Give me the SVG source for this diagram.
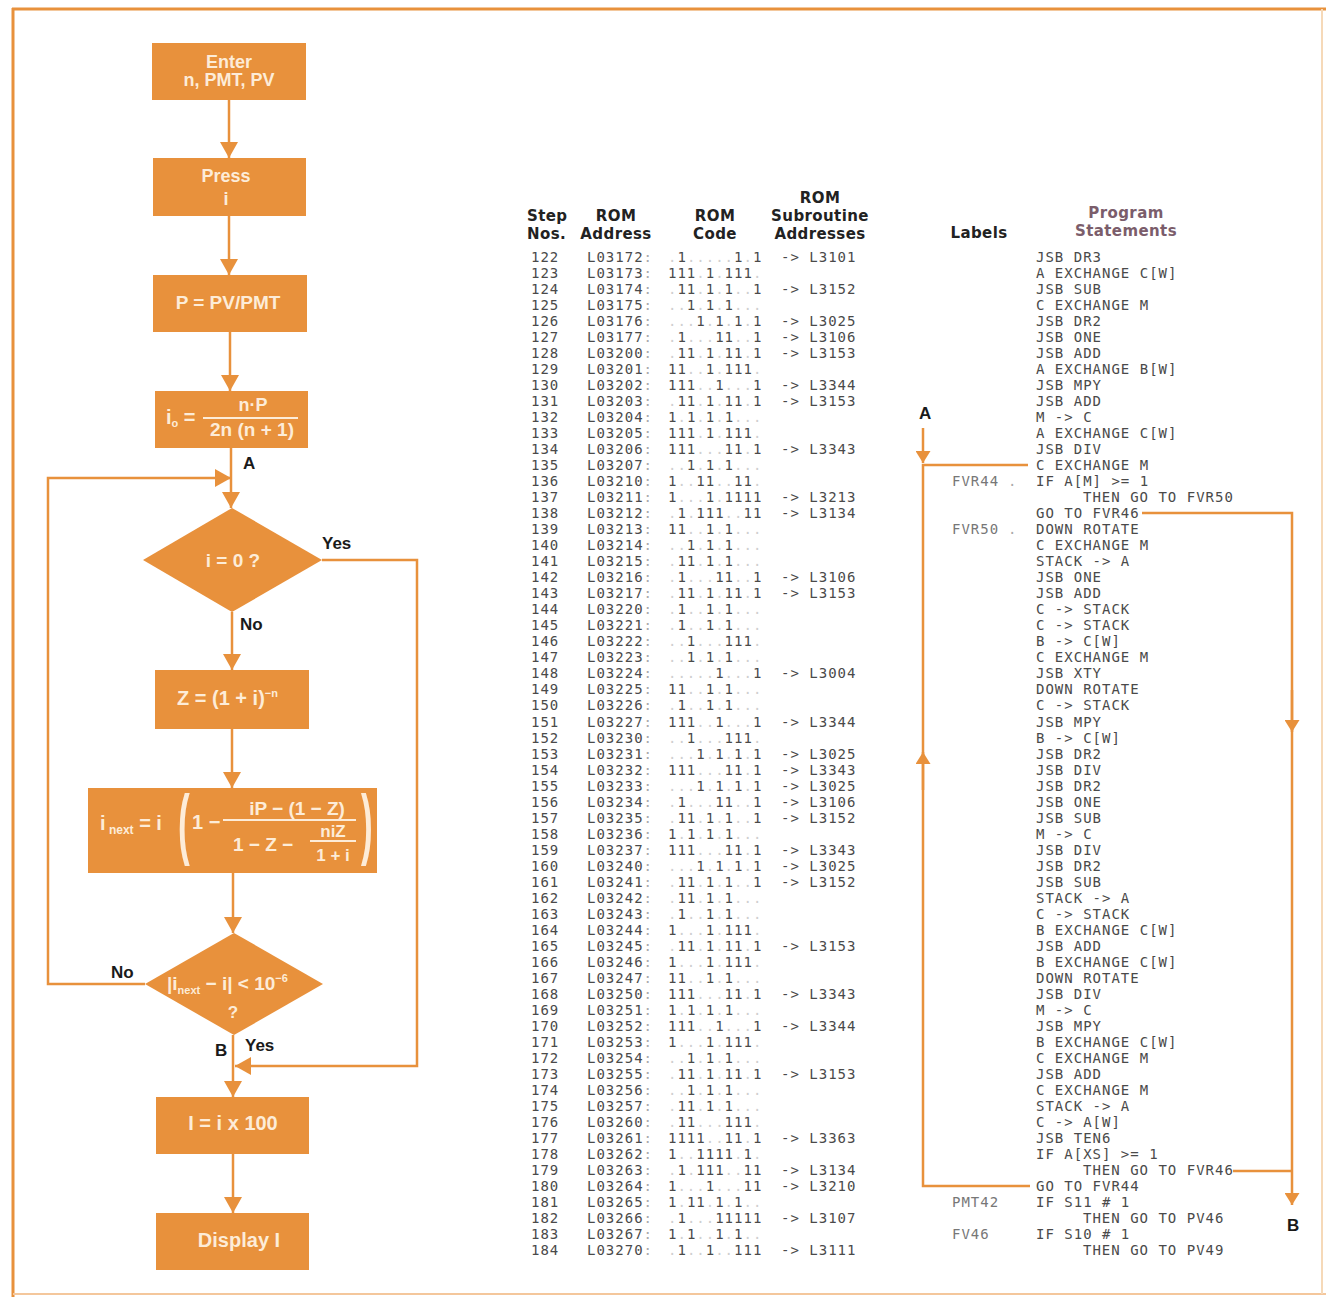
<svg xmlns="http://www.w3.org/2000/svg" width="1326" height="1297" viewBox="0 0 1326 1297">
<style>
.box{fill:#E8913C}
.bt{font-family:"Liberation Sans",Arial,sans-serif;font-weight:bold;fill:#FDECD8;text-anchor:middle}
.bts{font-family:"Liberation Sans",Arial,sans-serif;font-weight:bold;fill:#FDECD8}
.fl{stroke:#FDECD8;stroke-width:2}
.lbl{font-family:"Liberation Sans",Arial,sans-serif;font-weight:bold;font-size:17px;fill:#1a1a1a}
.hd{font-family:"DejaVu Sans",sans-serif;font-weight:bold;font-size:15px;letter-spacing:0.4px;fill:#222;text-anchor:middle}
.hdp{fill:#7B5D6B}
.mono{font-family:"DejaVu Sans Mono","Liberation Mono",monospace;font-size:14px;letter-spacing:1px;fill:#4a4a4a}
.d{fill:#cfcfcf}
.cl{fill:#aaaaaa}
.lab{fill:#777}
.conn{fill:none;stroke:#E8913C;stroke-width:2.5}
.frame{stroke:#E8913C;stroke-width:3}
</style>
<defs>
<marker id="ah" viewBox="0 0 16 18" refX="16" refY="9" markerWidth="16" markerHeight="18" markerUnits="userSpaceOnUse" orient="auto"><path d="M0,0 L16,9 L0,18 z" fill="#E8913C"/></marker>
<marker id="ahs" viewBox="0 0 12 15" refX="12" refY="7.5" markerWidth="12" markerHeight="15" markerUnits="userSpaceOnUse" orient="auto"><path d="M0,0 L12,7.5 L0,15 z" fill="#E8913C"/></marker>
</defs>
<rect width="1326" height="1297" fill="#ffffff"/>
<g id="frame">
<line class="frame" x1="12" y1="9" x2="1326" y2="9"/>
<line class="frame" x1="13" y1="8" x2="13" y2="1297"/>
<line x1="13" y1="1294" x2="1326" y2="1294" stroke="#F4C79C" stroke-width="2"/>
<line x1="1322" y1="9" x2="1322" y2="1294" stroke="#F6D9B8" stroke-width="2"/>
</g>

<g id="connectors">
<path class="conn" d="M229,100 V158" marker-end="url(#ah)"/>
<path class="conn" d="M229,216 V275" marker-end="url(#ah)"/>
<path class="conn" d="M230,332 V391" marker-end="url(#ah)"/>
<path class="conn" d="M231,448 V508" marker-end="url(#ah)"/>
<path class="conn" d="M145,984 H48 V478 H231" marker-end="url(#ah)"/>
<path class="conn" d="M232,612 V670" marker-end="url(#ah)"/>
<path class="conn" d="M322,560 H417 V1066 H235" marker-end="url(#ah)"/>
<path class="conn" d="M232,729 V788" marker-end="url(#ah)"/>
<path class="conn" d="M233,873 V933" marker-end="url(#ah)"/>
<path class="conn" d="M233,1035 V1097" marker-end="url(#ah)"/>
<path class="conn" d="M233,1154 V1213" marker-end="url(#ah)"/>
<path class="conn" d="M923,428 V463" marker-end="url(#ahs)"/>
<path class="conn" d="M1028,465 H923 V1186 H1030"/>
<path class="conn" d="M923,790 V752" marker-end="url(#ahs)"/>
<path class="conn" d="M1142,513 H1292 V1205" marker-end="url(#ahs)"/>
<path class="conn" d="M1292,690 V732" marker-end="url(#ahs)"/>
<path class="conn" d="M1233,1171 H1292"/>
</g>

<g id="n-enter">
<rect class="box" x="152" y="43" width="154" height="57"/>
<text class="bt" font-size="18"><tspan x="229" y="68">Enter</tspan><tspan x="229" y="86">n, PMT, PV</tspan></text>
</g>
<g id="n-press">
<rect class="box" x="153" y="158" width="153" height="58"/>
<text class="bt" font-size="18"><tspan x="226" y="182">Press</tspan><tspan x="226" y="205">i</tspan></text>
</g>
<g id="n-p">
<rect class="box" x="153" y="275" width="154" height="57"/>
<text class="bt" x="228" y="309" font-size="19">P = PV/PMT</text>
</g>
<g id="n-i0">
<rect class="box" x="155" y="391" width="153" height="57"/>
<text class="bts" x="166" y="424" font-size="20">i<tspan font-size="11" dy="3">o</tspan><tspan dy="-3"> =</tspan></text>
<text class="bt" x="253" y="411" font-size="18">n·P</text>
<line class="fl" x1="203" y1="418" x2="298" y2="418"/>
<text class="bt" x="252" y="436" font-size="19">2n (n + 1)</text>
</g>
<g id="n-d1">
<polygon class="box" points="143,560 232,508 322,560 232,612"/>
<text class="bt" x="233" y="567" font-size="19">i = 0 ?</text>
</g>
<g id="n-z">
<rect class="box" x="155" y="670" width="154" height="59"/>
<text class="bts" x="177" y="705" font-size="20">Z = (1 + i)<tspan font-size="11" dy="-8">−n</tspan></text>
</g>
<g id="n-inext">
<rect class="box" x="88" y="788" width="289" height="85"/>
<text class="bts" x="100" y="830" font-size="20">i<tspan font-size="12" dy="4"> next</tspan><tspan dy="-4"> = i</tspan></text>
<text class="bts" transform="translate(178,850) scale(0.45,1)" font-size="78">(</text>
<text class="bts" x="192" y="829" font-size="20">1 −</text>
<text class="bt" x="297" y="815" font-size="19">iP − (1 − Z)</text>
<line class="fl" x1="223" y1="820" x2="356" y2="820"/>
<text class="bts" x="233" y="851" font-size="19">1 − Z −</text>
<text class="bt" x="333" y="837" font-size="17">niZ</text>
<line class="fl" x1="310" y1="841" x2="356" y2="841"/>
<text class="bt" x="333" y="861" font-size="17">1 + i</text>
<text class="bts" transform="translate(361,850) scale(0.45,1)" font-size="78">)</text>
</g>
<g id="n-d2">
<polygon class="box" points="145,984 234,933 323,984 234,1035"/>
<text class="bts" x="167" y="990" font-size="19">|i<tspan font-size="11" dy="4">next</tspan><tspan dy="-4"> − i| &lt; 10</tspan><tspan font-size="11" dy="-8">−6</tspan></text>
<text class="bt" x="233" y="1018" font-size="17">?</text>
</g>
<g id="n-i100">
<rect class="box" x="156" y="1097" width="153" height="57"/>
<text class="bt" x="233" y="1130" font-size="20">I = i x 100</text>
</g>
<g id="n-display">
<rect class="box" x="156" y="1213" width="153" height="57"/>
<text class="bt" x="239" y="1247" font-size="20">Display I</text>
</g>

<g id="flow-labels">
<text class="lbl" x="243" y="469">A</text>
<text class="lbl" x="322" y="549">Yes</text>
<text class="lbl" x="240" y="630">No</text>
<text class="lbl" x="111" y="978">No</text>
<text class="lbl" x="215" y="1056">B</text>
<text class="lbl" x="245" y="1051">Yes</text>
<text class="lbl" x="919" y="419">A</text>
<text class="lbl" x="1287" y="1231">B</text>
</g>

<g id="table-header">
<text class="hd" style="text-anchor:start"><tspan x="527" y="221">Step</tspan><tspan x="527" y="239">Nos.</tspan></text>
<text class="hd"><tspan x="616" y="221">ROM</tspan><tspan x="616" y="239">Address</tspan></text>
<text class="hd"><tspan x="715" y="221">ROM</tspan><tspan x="715" y="239">Code</tspan></text>
<text class="hd"><tspan x="820" y="203">ROM</tspan><tspan x="820" y="221">Subroutine</tspan><tspan x="820" y="239">Addresses</tspan></text>
<text class="hd" x="979" y="238">Labels</text>
<text class="hd hdp"><tspan x="1126" y="218">Program</tspan><tspan x="1126" y="236">Statements</tspan></text>
</g>

<g id="table">
<text class="mono" fill="#3a3a3a"><tspan x="531" y="262">122</tspan><tspan x="531" y="278">123</tspan><tspan x="531" y="294">124</tspan><tspan x="531" y="310">125</tspan><tspan x="531" y="326.1">126</tspan><tspan x="531" y="342.1">127</tspan><tspan x="531" y="358.1">128</tspan><tspan x="531" y="374.1">129</tspan><tspan x="531" y="390.1">130</tspan><tspan x="531" y="406.1">131</tspan><tspan x="531" y="422.2">132</tspan><tspan x="531" y="438.2">133</tspan><tspan x="531" y="454.2">134</tspan><tspan x="531" y="470.2">135</tspan><tspan x="531" y="486.2">136</tspan><tspan x="531" y="502.2">137</tspan><tspan x="531" y="518.3">138</tspan><tspan x="531" y="534.3">139</tspan><tspan x="531" y="550.3">140</tspan><tspan x="531" y="566.3">141</tspan><tspan x="531" y="582.3">142</tspan><tspan x="531" y="598.3">143</tspan><tspan x="531" y="614.4">144</tspan><tspan x="531" y="630.4">145</tspan><tspan x="531" y="646.4">146</tspan><tspan x="531" y="662.4">147</tspan><tspan x="531" y="678.4">148</tspan><tspan x="531" y="694.4">149</tspan><tspan x="531" y="710.4">150</tspan><tspan x="531" y="726.5">151</tspan><tspan x="531" y="742.5">152</tspan><tspan x="531" y="758.5">153</tspan><tspan x="531" y="774.5">154</tspan><tspan x="531" y="790.5">155</tspan><tspan x="531" y="806.5">156</tspan><tspan x="531" y="822.6">157</tspan><tspan x="531" y="838.6">158</tspan><tspan x="531" y="854.6">159</tspan><tspan x="531" y="870.6">160</tspan><tspan x="531" y="886.6">161</tspan><tspan x="531" y="902.6">162</tspan><tspan x="531" y="918.7">163</tspan><tspan x="531" y="934.7">164</tspan><tspan x="531" y="950.7">165</tspan><tspan x="531" y="966.7">166</tspan><tspan x="531" y="982.7">167</tspan><tspan x="531" y="998.7">168</tspan><tspan x="531" y="1014.8">169</tspan><tspan x="531" y="1030.8">170</tspan><tspan x="531" y="1046.8">171</tspan><tspan x="531" y="1062.8">172</tspan><tspan x="531" y="1078.8">173</tspan><tspan x="531" y="1094.8">174</tspan><tspan x="531" y="1110.8">175</tspan><tspan x="531" y="1126.9">176</tspan><tspan x="531" y="1142.9">177</tspan><tspan x="531" y="1158.9">178</tspan><tspan x="531" y="1174.9">179</tspan><tspan x="531" y="1190.9">180</tspan><tspan x="531" y="1206.9">181</tspan><tspan x="531" y="1223">182</tspan><tspan x="531" y="1239">183</tspan><tspan x="531" y="1255">184</tspan></text>

<text class="mono"><tspan x="587" y="262">L03172<tspan class="cl">:</tspan></tspan><tspan x="587" y="278">L03173<tspan class="cl">:</tspan></tspan><tspan x="587" y="294">L03174<tspan class="cl">:</tspan></tspan><tspan x="587" y="310">L03175<tspan class="cl">:</tspan></tspan><tspan x="587" y="326.1">L03176<tspan class="cl">:</tspan></tspan><tspan x="587" y="342.1">L03177<tspan class="cl">:</tspan></tspan><tspan x="587" y="358.1">L03200<tspan class="cl">:</tspan></tspan><tspan x="587" y="374.1">L03201<tspan class="cl">:</tspan></tspan><tspan x="587" y="390.1">L03202<tspan class="cl">:</tspan></tspan><tspan x="587" y="406.1">L03203<tspan class="cl">:</tspan></tspan><tspan x="587" y="422.2">L03204<tspan class="cl">:</tspan></tspan><tspan x="587" y="438.2">L03205<tspan class="cl">:</tspan></tspan><tspan x="587" y="454.2">L03206<tspan class="cl">:</tspan></tspan><tspan x="587" y="470.2">L03207<tspan class="cl">:</tspan></tspan><tspan x="587" y="486.2">L03210<tspan class="cl">:</tspan></tspan><tspan x="587" y="502.2">L03211<tspan class="cl">:</tspan></tspan><tspan x="587" y="518.3">L03212<tspan class="cl">:</tspan></tspan><tspan x="587" y="534.3">L03213<tspan class="cl">:</tspan></tspan><tspan x="587" y="550.3">L03214<tspan class="cl">:</tspan></tspan><tspan x="587" y="566.3">L03215<tspan class="cl">:</tspan></tspan><tspan x="587" y="582.3">L03216<tspan class="cl">:</tspan></tspan><tspan x="587" y="598.3">L03217<tspan class="cl">:</tspan></tspan><tspan x="587" y="614.4">L03220<tspan class="cl">:</tspan></tspan><tspan x="587" y="630.4">L03221<tspan class="cl">:</tspan></tspan><tspan x="587" y="646.4">L03222<tspan class="cl">:</tspan></tspan><tspan x="587" y="662.4">L03223<tspan class="cl">:</tspan></tspan><tspan x="587" y="678.4">L03224<tspan class="cl">:</tspan></tspan><tspan x="587" y="694.4">L03225<tspan class="cl">:</tspan></tspan><tspan x="587" y="710.4">L03226<tspan class="cl">:</tspan></tspan><tspan x="587" y="726.5">L03227<tspan class="cl">:</tspan></tspan><tspan x="587" y="742.5">L03230<tspan class="cl">:</tspan></tspan><tspan x="587" y="758.5">L03231<tspan class="cl">:</tspan></tspan><tspan x="587" y="774.5">L03232<tspan class="cl">:</tspan></tspan><tspan x="587" y="790.5">L03233<tspan class="cl">:</tspan></tspan><tspan x="587" y="806.5">L03234<tspan class="cl">:</tspan></tspan><tspan x="587" y="822.6">L03235<tspan class="cl">:</tspan></tspan><tspan x="587" y="838.6">L03236<tspan class="cl">:</tspan></tspan><tspan x="587" y="854.6">L03237<tspan class="cl">:</tspan></tspan><tspan x="587" y="870.6">L03240<tspan class="cl">:</tspan></tspan><tspan x="587" y="886.6">L03241<tspan class="cl">:</tspan></tspan><tspan x="587" y="902.6">L03242<tspan class="cl">:</tspan></tspan><tspan x="587" y="918.7">L03243<tspan class="cl">:</tspan></tspan><tspan x="587" y="934.7">L03244<tspan class="cl">:</tspan></tspan><tspan x="587" y="950.7">L03245<tspan class="cl">:</tspan></tspan><tspan x="587" y="966.7">L03246<tspan class="cl">:</tspan></tspan><tspan x="587" y="982.7">L03247<tspan class="cl">:</tspan></tspan><tspan x="587" y="998.7">L03250<tspan class="cl">:</tspan></tspan><tspan x="587" y="1014.8">L03251<tspan class="cl">:</tspan></tspan><tspan x="587" y="1030.8">L03252<tspan class="cl">:</tspan></tspan><tspan x="587" y="1046.8">L03253<tspan class="cl">:</tspan></tspan><tspan x="587" y="1062.8">L03254<tspan class="cl">:</tspan></tspan><tspan x="587" y="1078.8">L03255<tspan class="cl">:</tspan></tspan><tspan x="587" y="1094.8">L03256<tspan class="cl">:</tspan></tspan><tspan x="587" y="1110.8">L03257<tspan class="cl">:</tspan></tspan><tspan x="587" y="1126.9">L03260<tspan class="cl">:</tspan></tspan><tspan x="587" y="1142.9">L03261<tspan class="cl">:</tspan></tspan><tspan x="587" y="1158.9">L03262<tspan class="cl">:</tspan></tspan><tspan x="587" y="1174.9">L03263<tspan class="cl">:</tspan></tspan><tspan x="587" y="1190.9">L03264<tspan class="cl">:</tspan></tspan><tspan x="587" y="1206.9">L03265<tspan class="cl">:</tspan></tspan><tspan x="587" y="1223">L03266<tspan class="cl">:</tspan></tspan><tspan x="587" y="1239">L03267<tspan class="cl">:</tspan></tspan><tspan x="587" y="1255">L03270<tspan class="cl">:</tspan></tspan></text>

<text class="mono" fill="#444"><tspan x="668" y="262"><tspan class="d">.</tspan>1<tspan class="d">.....</tspan>1<tspan class="d">.</tspan>1</tspan><tspan x="668" y="278">111<tspan class="d">.</tspan>1<tspan class="d">.</tspan>111<tspan class="d">.</tspan></tspan><tspan x="668" y="294"><tspan class="d">.</tspan>11<tspan class="d">.</tspan>1<tspan class="d">.</tspan>1<tspan class="d">..</tspan>1</tspan><tspan x="668" y="310"><tspan class="d">..</tspan>1<tspan class="d">.</tspan>1<tspan class="d">.</tspan>1<tspan class="d">...</tspan></tspan><tspan x="668" y="326.1"><tspan class="d">...</tspan>1<tspan class="d">.</tspan>1<tspan class="d">.</tspan>1<tspan class="d">.</tspan>1</tspan><tspan x="668" y="342.1"><tspan class="d">.</tspan>1<tspan class="d">...</tspan>11<tspan class="d">..</tspan>1</tspan><tspan x="668" y="358.1"><tspan class="d">.</tspan>11<tspan class="d">.</tspan>1<tspan class="d">.</tspan>11<tspan class="d">.</tspan>1</tspan><tspan x="668" y="374.1">11<tspan class="d">..</tspan>1<tspan class="d">.</tspan>111<tspan class="d">.</tspan></tspan><tspan x="668" y="390.1">111<tspan class="d">..</tspan>1<tspan class="d">...</tspan>1</tspan><tspan x="668" y="406.1"><tspan class="d">.</tspan>11<tspan class="d">.</tspan>1<tspan class="d">.</tspan>11<tspan class="d">.</tspan>1</tspan><tspan x="668" y="422.2">1<tspan class="d">.</tspan>1<tspan class="d">.</tspan>1<tspan class="d">.</tspan>1<tspan class="d">...</tspan></tspan><tspan x="668" y="438.2">111<tspan class="d">.</tspan>1<tspan class="d">.</tspan>111<tspan class="d">.</tspan></tspan><tspan x="668" y="454.2">111<tspan class="d">...</tspan>11<tspan class="d">.</tspan>1</tspan><tspan x="668" y="470.2"><tspan class="d">..</tspan>1<tspan class="d">.</tspan>1<tspan class="d">.</tspan>1<tspan class="d">...</tspan></tspan><tspan x="668" y="486.2">1<tspan class="d">..</tspan>11<tspan class="d">..</tspan>11<tspan class="d">.</tspan></tspan><tspan x="668" y="502.2">1<tspan class="d">...</tspan>1<tspan class="d">.</tspan>1111</tspan><tspan x="668" y="518.3"><tspan class="d">.</tspan>1<tspan class="d">.</tspan>111<tspan class="d">..</tspan>11</tspan><tspan x="668" y="534.3">11<tspan class="d">..</tspan>1<tspan class="d">.</tspan>1<tspan class="d">...</tspan></tspan><tspan x="668" y="550.3"><tspan class="d">..</tspan>1<tspan class="d">.</tspan>1<tspan class="d">.</tspan>1<tspan class="d">...</tspan></tspan><tspan x="668" y="566.3"><tspan class="d">.</tspan>11<tspan class="d">.</tspan>1<tspan class="d">.</tspan>1<tspan class="d">...</tspan></tspan><tspan x="668" y="582.3"><tspan class="d">.</tspan>1<tspan class="d">...</tspan>11<tspan class="d">..</tspan>1</tspan><tspan x="668" y="598.3"><tspan class="d">.</tspan>11<tspan class="d">.</tspan>1<tspan class="d">.</tspan>11<tspan class="d">.</tspan>1</tspan><tspan x="668" y="614.4"><tspan class="d">.</tspan>1<tspan class="d">..</tspan>1<tspan class="d">.</tspan>1<tspan class="d">...</tspan></tspan><tspan x="668" y="630.4"><tspan class="d">.</tspan>1<tspan class="d">..</tspan>1<tspan class="d">.</tspan>1<tspan class="d">...</tspan></tspan><tspan x="668" y="646.4"><tspan class="d">..</tspan>1<tspan class="d">...</tspan>111<tspan class="d">.</tspan></tspan><tspan x="668" y="662.4"><tspan class="d">..</tspan>1<tspan class="d">.</tspan>1<tspan class="d">.</tspan>1<tspan class="d">...</tspan></tspan><tspan x="668" y="678.4"><tspan class="d">.....</tspan>1<tspan class="d">...</tspan>1</tspan><tspan x="668" y="694.4">11<tspan class="d">..</tspan>1<tspan class="d">.</tspan>1<tspan class="d">...</tspan></tspan><tspan x="668" y="710.4"><tspan class="d">.</tspan>1<tspan class="d">..</tspan>1<tspan class="d">.</tspan>1<tspan class="d">...</tspan></tspan><tspan x="668" y="726.5">111<tspan class="d">..</tspan>1<tspan class="d">...</tspan>1</tspan><tspan x="668" y="742.5"><tspan class="d">..</tspan>1<tspan class="d">...</tspan>111<tspan class="d">.</tspan></tspan><tspan x="668" y="758.5"><tspan class="d">...</tspan>1<tspan class="d">.</tspan>1<tspan class="d">.</tspan>1<tspan class="d">.</tspan>1</tspan><tspan x="668" y="774.5">111<tspan class="d">...</tspan>11<tspan class="d">.</tspan>1</tspan><tspan x="668" y="790.5"><tspan class="d">...</tspan>1<tspan class="d">.</tspan>1<tspan class="d">.</tspan>1<tspan class="d">.</tspan>1</tspan><tspan x="668" y="806.5"><tspan class="d">.</tspan>1<tspan class="d">...</tspan>11<tspan class="d">..</tspan>1</tspan><tspan x="668" y="822.6"><tspan class="d">.</tspan>11<tspan class="d">.</tspan>1<tspan class="d">.</tspan>1<tspan class="d">..</tspan>1</tspan><tspan x="668" y="838.6">1<tspan class="d">.</tspan>1<tspan class="d">.</tspan>1<tspan class="d">.</tspan>1<tspan class="d">...</tspan></tspan><tspan x="668" y="854.6">111<tspan class="d">...</tspan>11<tspan class="d">.</tspan>1</tspan><tspan x="668" y="870.6"><tspan class="d">...</tspan>1<tspan class="d">.</tspan>1<tspan class="d">.</tspan>1<tspan class="d">.</tspan>1</tspan><tspan x="668" y="886.6"><tspan class="d">.</tspan>11<tspan class="d">.</tspan>1<tspan class="d">.</tspan>1<tspan class="d">..</tspan>1</tspan><tspan x="668" y="902.6"><tspan class="d">.</tspan>11<tspan class="d">.</tspan>1<tspan class="d">.</tspan>1<tspan class="d">...</tspan></tspan><tspan x="668" y="918.7"><tspan class="d">.</tspan>1<tspan class="d">..</tspan>1<tspan class="d">.</tspan>1<tspan class="d">...</tspan></tspan><tspan x="668" y="934.7">1<tspan class="d">...</tspan>1<tspan class="d">.</tspan>111<tspan class="d">.</tspan></tspan><tspan x="668" y="950.7"><tspan class="d">.</tspan>11<tspan class="d">.</tspan>1<tspan class="d">.</tspan>11<tspan class="d">.</tspan>1</tspan><tspan x="668" y="966.7">1<tspan class="d">...</tspan>1<tspan class="d">.</tspan>111<tspan class="d">.</tspan></tspan><tspan x="668" y="982.7">11<tspan class="d">..</tspan>1<tspan class="d">.</tspan>1<tspan class="d">...</tspan></tspan><tspan x="668" y="998.7">111<tspan class="d">...</tspan>11<tspan class="d">.</tspan>1</tspan><tspan x="668" y="1014.8">1<tspan class="d">.</tspan>1<tspan class="d">.</tspan>1<tspan class="d">.</tspan>1<tspan class="d">...</tspan></tspan><tspan x="668" y="1030.8">111<tspan class="d">..</tspan>1<tspan class="d">...</tspan>1</tspan><tspan x="668" y="1046.8">1<tspan class="d">...</tspan>1<tspan class="d">.</tspan>111<tspan class="d">.</tspan></tspan><tspan x="668" y="1062.8"><tspan class="d">..</tspan>1<tspan class="d">.</tspan>1<tspan class="d">.</tspan>1<tspan class="d">...</tspan></tspan><tspan x="668" y="1078.8"><tspan class="d">.</tspan>11<tspan class="d">.</tspan>1<tspan class="d">.</tspan>11<tspan class="d">.</tspan>1</tspan><tspan x="668" y="1094.8"><tspan class="d">..</tspan>1<tspan class="d">.</tspan>1<tspan class="d">.</tspan>1<tspan class="d">...</tspan></tspan><tspan x="668" y="1110.8"><tspan class="d">.</tspan>11<tspan class="d">.</tspan>1<tspan class="d">.</tspan>1<tspan class="d">...</tspan></tspan><tspan x="668" y="1126.9"><tspan class="d">.</tspan>11<tspan class="d">...</tspan>111<tspan class="d">.</tspan></tspan><tspan x="668" y="1142.9">1111<tspan class="d">..</tspan>11<tspan class="d">.</tspan>1</tspan><tspan x="668" y="1158.9">1<tspan class="d">..</tspan>1111<tspan class="d">.</tspan>1<tspan class="d">.</tspan></tspan><tspan x="668" y="1174.9"><tspan class="d">.</tspan>1<tspan class="d">.</tspan>111<tspan class="d">..</tspan>11</tspan><tspan x="668" y="1190.9">1<tspan class="d">...</tspan>1<tspan class="d">...</tspan>11</tspan><tspan x="668" y="1206.9">1<tspan class="d">.</tspan>11<tspan class="d">.</tspan>1<tspan class="d">.</tspan>1<tspan class="d">..</tspan></tspan><tspan x="668" y="1223"><tspan class="d">.</tspan>1<tspan class="d">...</tspan>11111</tspan><tspan x="668" y="1239">1<tspan class="d">.</tspan>1<tspan class="d">..</tspan>1<tspan class="d">.</tspan>1<tspan class="d">..</tspan></tspan><tspan x="668" y="1255"><tspan class="d">.</tspan>1<tspan class="d">..</tspan>1<tspan class="d">..</tspan>111</tspan></text>

<text class="mono"><tspan x="781" y="262">-&gt; L3101</tspan><tspan x="781" y="294">-&gt; L3152</tspan><tspan x="781" y="326.1">-&gt; L3025</tspan><tspan x="781" y="342.1">-&gt; L3106</tspan><tspan x="781" y="358.1">-&gt; L3153</tspan><tspan x="781" y="390.1">-&gt; L3344</tspan><tspan x="781" y="406.1">-&gt; L3153</tspan><tspan x="781" y="454.2">-&gt; L3343</tspan><tspan x="781" y="502.2">-&gt; L3213</tspan><tspan x="781" y="518.3">-&gt; L3134</tspan><tspan x="781" y="582.3">-&gt; L3106</tspan><tspan x="781" y="598.3">-&gt; L3153</tspan><tspan x="781" y="678.4">-&gt; L3004</tspan><tspan x="781" y="726.5">-&gt; L3344</tspan><tspan x="781" y="758.5">-&gt; L3025</tspan><tspan x="781" y="774.5">-&gt; L3343</tspan><tspan x="781" y="790.5">-&gt; L3025</tspan><tspan x="781" y="806.5">-&gt; L3106</tspan><tspan x="781" y="822.6">-&gt; L3152</tspan><tspan x="781" y="854.6">-&gt; L3343</tspan><tspan x="781" y="870.6">-&gt; L3025</tspan><tspan x="781" y="886.6">-&gt; L3152</tspan><tspan x="781" y="950.7">-&gt; L3153</tspan><tspan x="781" y="998.7">-&gt; L3343</tspan><tspan x="781" y="1030.8">-&gt; L3344</tspan><tspan x="781" y="1078.8">-&gt; L3153</tspan><tspan x="781" y="1142.9">-&gt; L3363</tspan><tspan x="781" y="1174.9">-&gt; L3134</tspan><tspan x="781" y="1190.9">-&gt; L3210</tspan><tspan x="781" y="1223">-&gt; L3107</tspan><tspan x="781" y="1255">-&gt; L3111</tspan></text>

<text class="mono lab"><tspan x="952" y="486.2">FVR44</tspan><tspan class="cl" x="1008" y="486.2">.</tspan><tspan x="952" y="534.3">FVR50</tspan><tspan class="cl" x="1008" y="534.3">.</tspan><tspan x="952" y="1206.9">PMT42</tspan><tspan x="952" y="1239">FV46</tspan></text>

<text class="mono" fill="#555"><tspan x="1036" y="262">JSB DR3</tspan><tspan x="1036" y="278">A EXCHANGE C[W]</tspan><tspan x="1036" y="294">JSB SUB</tspan><tspan x="1036" y="310">C EXCHANGE M</tspan><tspan x="1036" y="326.1">JSB DR2</tspan><tspan x="1036" y="342.1">JSB ONE</tspan><tspan x="1036" y="358.1">JSB ADD</tspan><tspan x="1036" y="374.1">A EXCHANGE B[W]</tspan><tspan x="1036" y="390.1">JSB MPY</tspan><tspan x="1036" y="406.1">JSB ADD</tspan><tspan x="1036" y="422.2">M -&gt; C</tspan><tspan x="1036" y="438.2">A EXCHANGE C[W]</tspan><tspan x="1036" y="454.2">JSB DIV</tspan><tspan x="1036" y="470.2">C EXCHANGE M</tspan><tspan x="1036" y="486.2">IF A[M] &gt;= 1</tspan><tspan x="1083" y="502.2">THEN GO TO FVR50</tspan><tspan x="1036" y="518.3">GO TO FVR46</tspan><tspan x="1036" y="534.3">DOWN ROTATE</tspan><tspan x="1036" y="550.3">C EXCHANGE M</tspan><tspan x="1036" y="566.3">STACK -&gt; A</tspan><tspan x="1036" y="582.3">JSB ONE</tspan><tspan x="1036" y="598.3">JSB ADD</tspan><tspan x="1036" y="614.4">C -&gt; STACK</tspan><tspan x="1036" y="630.4">C -&gt; STACK</tspan><tspan x="1036" y="646.4">B -&gt; C[W]</tspan><tspan x="1036" y="662.4">C EXCHANGE M</tspan><tspan x="1036" y="678.4">JSB XTY</tspan><tspan x="1036" y="694.4">DOWN ROTATE</tspan><tspan x="1036" y="710.4">C -&gt; STACK</tspan><tspan x="1036" y="726.5">JSB MPY</tspan><tspan x="1036" y="742.5">B -&gt; C[W]</tspan><tspan x="1036" y="758.5">JSB DR2</tspan><tspan x="1036" y="774.5">JSB DIV</tspan><tspan x="1036" y="790.5">JSB DR2</tspan><tspan x="1036" y="806.5">JSB ONE</tspan><tspan x="1036" y="822.6">JSB SUB</tspan><tspan x="1036" y="838.6">M -&gt; C</tspan><tspan x="1036" y="854.6">JSB DIV</tspan><tspan x="1036" y="870.6">JSB DR2</tspan><tspan x="1036" y="886.6">JSB SUB</tspan><tspan x="1036" y="902.6">STACK -&gt; A</tspan><tspan x="1036" y="918.7">C -&gt; STACK</tspan><tspan x="1036" y="934.7">B EXCHANGE C[W]</tspan><tspan x="1036" y="950.7">JSB ADD</tspan><tspan x="1036" y="966.7">B EXCHANGE C[W]</tspan><tspan x="1036" y="982.7">DOWN ROTATE</tspan><tspan x="1036" y="998.7">JSB DIV</tspan><tspan x="1036" y="1014.8">M -&gt; C</tspan><tspan x="1036" y="1030.8">JSB MPY</tspan><tspan x="1036" y="1046.8">B EXCHANGE C[W]</tspan><tspan x="1036" y="1062.8">C EXCHANGE M</tspan><tspan x="1036" y="1078.8">JSB ADD</tspan><tspan x="1036" y="1094.8">C EXCHANGE M</tspan><tspan x="1036" y="1110.8">STACK -&gt; A</tspan><tspan x="1036" y="1126.9">C -&gt; A[W]</tspan><tspan x="1036" y="1142.9">JSB TEN6</tspan><tspan x="1036" y="1158.9">IF A[XS] &gt;= 1</tspan><tspan x="1083" y="1174.9">THEN GO TO FVR46</tspan><tspan x="1036" y="1190.9">GO TO FVR44</tspan><tspan x="1036" y="1206.9">IF S11 # 1</tspan><tspan x="1083" y="1223">THEN GO TO PV46</tspan><tspan x="1036" y="1239">IF S10 # 1</tspan><tspan x="1083" y="1255">THEN GO TO PV49</tspan></text>
</g>
</svg>
